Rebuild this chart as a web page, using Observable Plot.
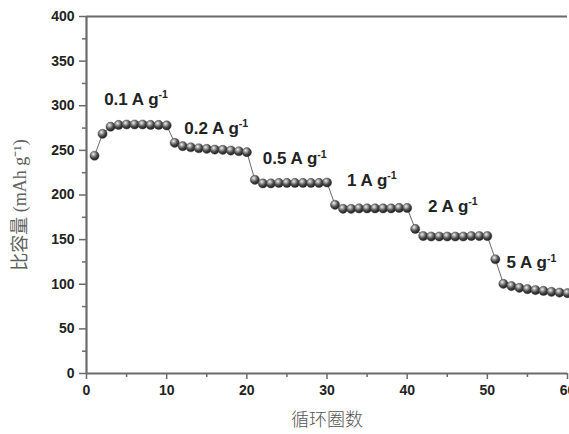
<!DOCTYPE html>
<html>
<head>
<meta charset="utf-8">
<script src="https://cdn.jsdelivr.net/npm/d3@7"></script>
<script src="https://cdn.jsdelivr.net/npm/@observablehq/plot@0.6"></script>
<style>
  html, body { margin: 0; padding: 0; background: #fff; overflow: hidden; }
</style>
</head>
<body>
<div id="chart"></div>
<script>
// Cycle numbers and specific capacity (mAh g-1)
const cycles = d3.range(1, 61);
const cap01 = [244, 268.5, 276.5, 278.5, 279, 279, 279, 278.5, 278.5, 278];
const cap02 = [258.5, 254.7, 253.5, 252.4, 251.7, 250.9, 250.6, 249.8, 249, 248];
const cap05 = [217, 213, 213, 213.5, 213.5, 213.5, 213.5, 213.5, 213.5, 214];
const cap1  = [189, 184.5, 184.5, 185, 185, 185, 185, 185, 185.5, 185.5];
const cap2  = [162, 154, 153.5, 153.5, 153.5, 153.5, 153.5, 154, 154, 154];
const cap5  = [128, 100.5, 98, 96, 94.5, 93.5, 92.5, 91.5, 90.7, 90];

const rateLabels = ["0.1 A g-1", "0.2 A g-1", "0.5 A g-1", "1 A g-1", "2 A g-1", "5 A g-1"];
const labelX = [2.2, 12.2, 22.0, 32.5, 42.6, 52.4];
const labelY = [307, 274.5, 240.5, 216.5, 187.5, 124];

const yMajor = [0, 50, 100, 150, 200, 250, 300, 350, 400];
const yMinor = [25, 75, 125, 175, 225, 275, 325, 375];
const xMajor = [0, 10, 20, 30, 40, 50, 60];
const xMinor = [5, 15, 25, 35, 45, 55];

const xTitle = "循环圈数";
const yTitle = "比容量 (mAh g⁻¹)";

const caps = [...cap01, ...cap02, ...cap05, ...cap1, ...cap2, ...cap5];
const data = cycles.map((c, i) => ({cycle: c, cap: caps[i]}));
const labels = rateLabels.map((t, i) => ({t, x: labelX[i], y: labelY[i]}));

const axisColor = "#6a6a6a";
const tickFont = "'Liberation Sans', Arial, sans-serif";

function superscriptRender(index, scales, values, dims, ctx, next) {
  const g = next(index, scales, values, dims, ctx);
  g.querySelectorAll("text").forEach(t => {
    const s = t.textContent;
    const m = s.match(/^(.*)-1$/);
    if (m) {
      t.textContent = "";
      const a = document.createElementNS("http://www.w3.org/2000/svg", "tspan");
      a.textContent = m[1];
      const b = document.createElementNS("http://www.w3.org/2000/svg", "tspan");
      b.textContent = "-1";
      b.setAttribute("font-size", "10.5");
      b.setAttribute("dy", "-6.5");
      t.appendChild(a);
      t.appendChild(b);
    }
  });
  return g;
}

const chart = Plot.plot({
  width: 569,
  height: 434,
  marginLeft: 86,
  marginRight: 2,
  marginTop: 16,
  marginBottom: 61,
  style: {background: "#fff", overflow: "visible"},
  x: {domain: [0, 60]},
  y: {domain: [0, 400]},
  marks: [
    Plot.axisY({ticks: yMajor, tickSize: 7, tickPadding: 5, label: null, stroke: axisColor, strokeWidth: 1.5,
      fontSize: 14, fontWeight: "bold", fontFamily: tickFont, fill: "#222"}),
    Plot.axisY({ticks: yMinor, tickSize: 4, text: null, label: null, stroke: axisColor, strokeWidth: 1.5}),
    Plot.axisX({ticks: xMajor, tickSize: 6, tickPadding: 6, label: null, stroke: axisColor, strokeWidth: 1.5,
      fontSize: 14, fontWeight: "bold", fontFamily: tickFont, fill: "#222"}),
    Plot.axisX({ticks: xMinor, tickSize: 4, text: null, label: null, stroke: axisColor, strokeWidth: 1.5}),
    Plot.ruleX([0], {stroke: axisColor, strokeWidth: 2.2}),
    Plot.ruleY([0], {stroke: axisColor, strokeWidth: 2.2}),
    Plot.ruleY([400], {stroke: axisColor, strokeWidth: 2}),
    Plot.line(data, {x: "cycle", y: "cap", stroke: "#555", strokeWidth: 0.9}),
    Plot.dot(data, {x: "cycle", y: "cap", r: 4.6, fill: "url(#ball)", stroke: "#333", strokeWidth: 0.4}),
    Plot.text(labels, {x: "x", y: "y", text: "t", textAnchor: "start", fontSize: 17, fontWeight: "bold",
      fontFamily: tickFont, fill: "#222", render: superscriptRender}),
    Plot.text([yTitle], {frameAnchor: "left", rotate: -90, dx: -66, dy: 10, text: d => d, fontSize: 18,
      fontFamily: "'Liberation Serif', 'Noto Sans CJK SC', serif", fill: "#606060", textAnchor: "middle"}),
    Plot.text([xTitle], {frameAnchor: "bottom", dy: 52, text: d => d, fontSize: 18,
      fontFamily: "'Noto Sans CJK SC', sans-serif", fontWeight: 300, fill: "#555", textAnchor: "middle"})
  ]
});

const defs = document.createElementNS("http://www.w3.org/2000/svg", "defs");
defs.innerHTML = `<radialGradient id="ball" cx="0.38" cy="0.32" r="0.7">
  <stop offset="0" stop-color="#f4f4f4"/>
  <stop offset="0.25" stop-color="#a8a8a8"/>
  <stop offset="0.6" stop-color="#4a4a4a"/>
  <stop offset="1" stop-color="#1a1a1a"/>
</radialGradient>`;
chart.insertBefore(defs, chart.firstChild);
document.getElementById("chart").appendChild(chart);
</script>
</body>
</html>
